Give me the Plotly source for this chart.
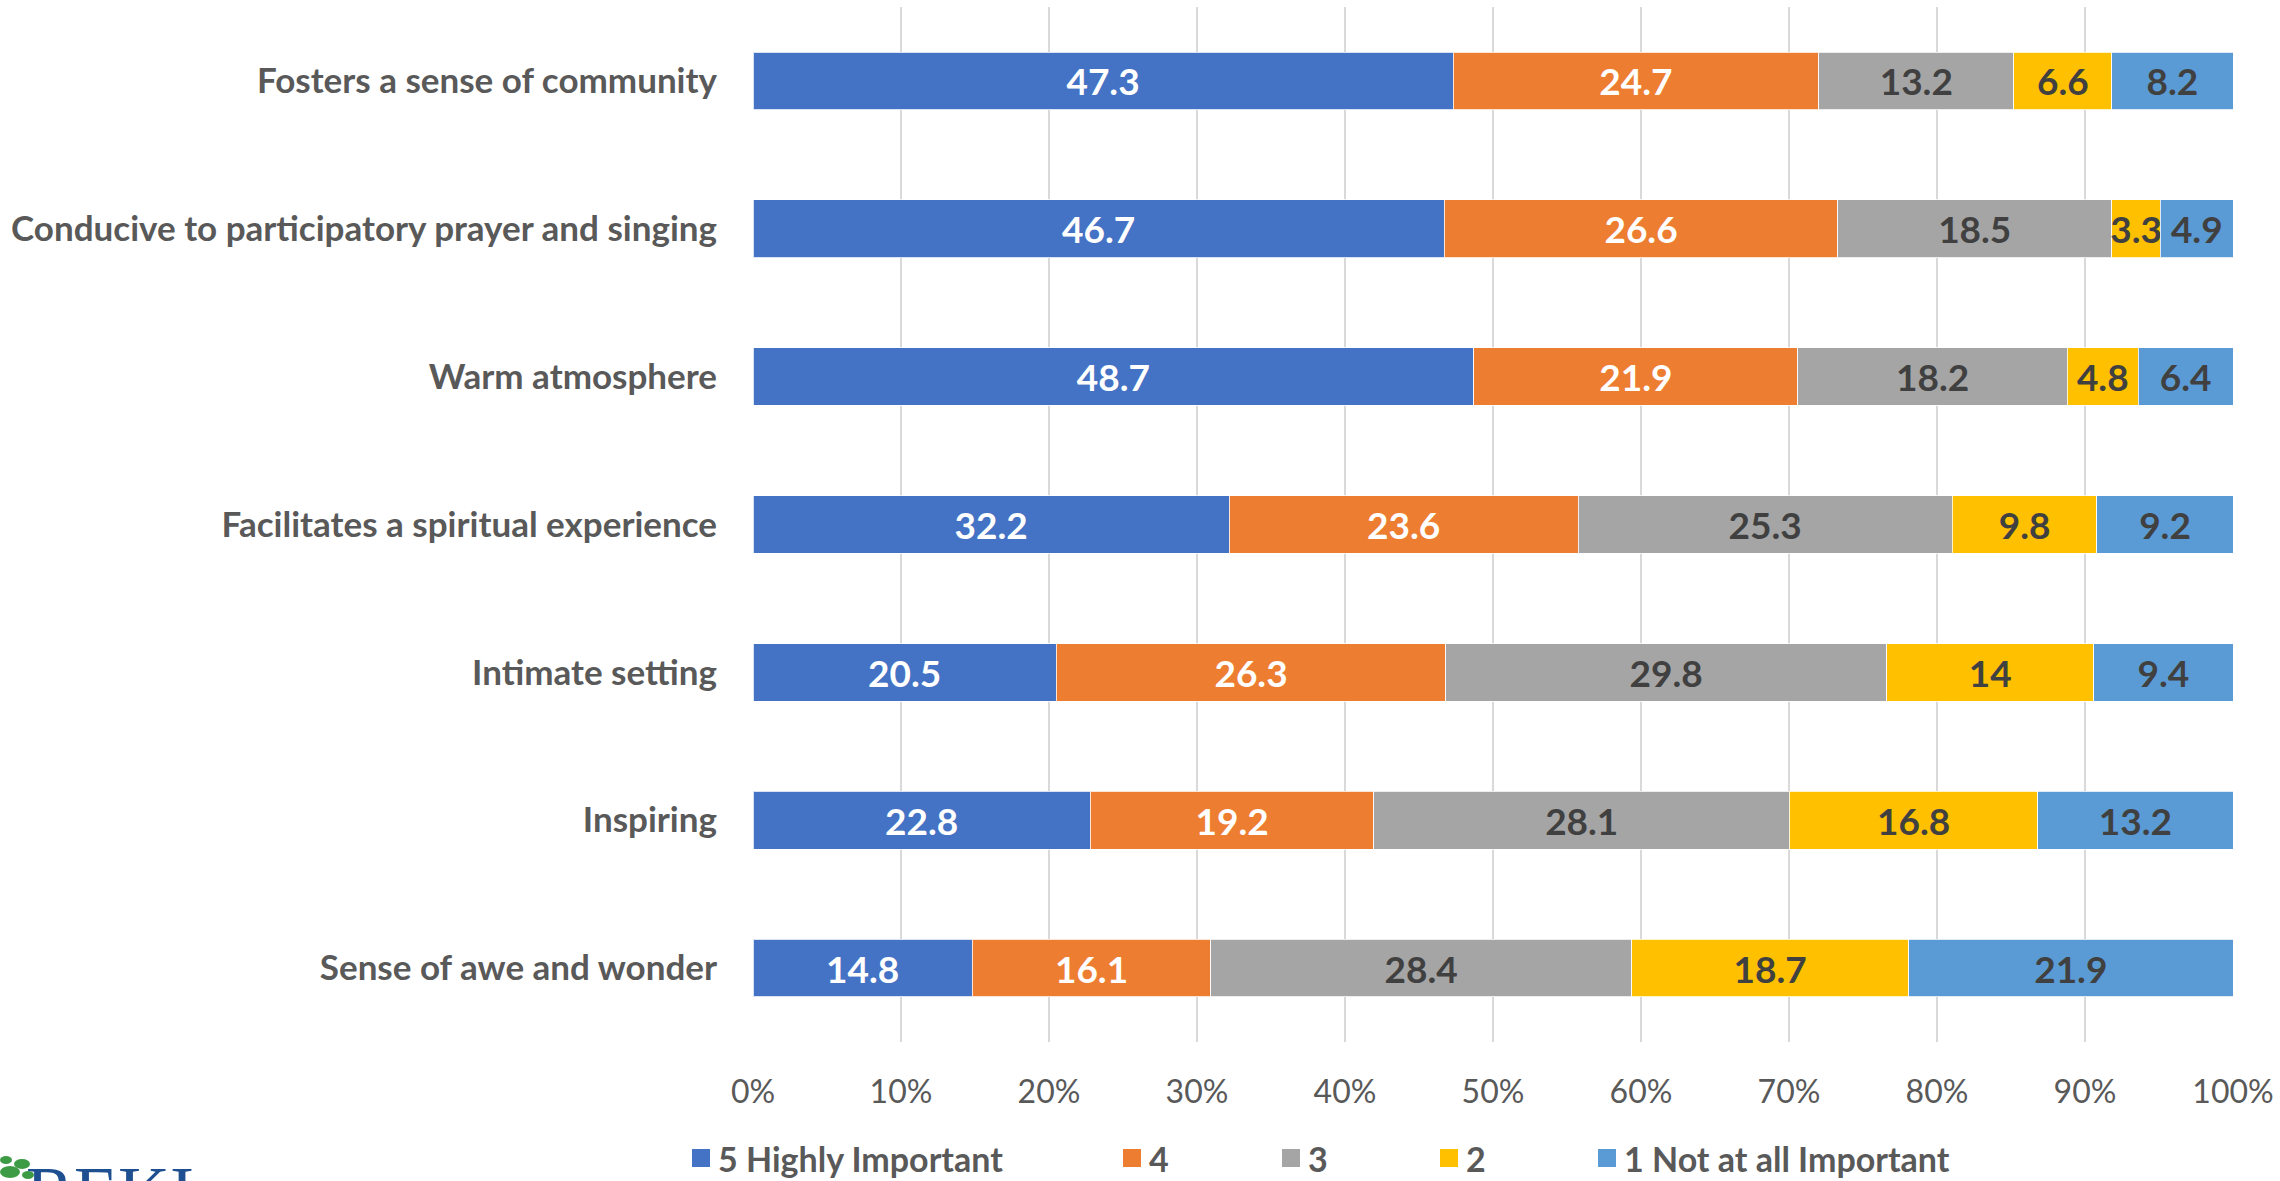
import plotly.graph_objects as go

# Survey items, listed top to bottom
categories = [
    "Fosters a sense of community",
    "Conducive to participatory prayer and singing",
    "Warm atmosphere",
    "Facilitates a spiritual experience",
    "Intimate setting",
    "Inspiring",
    "Sense of awe and wonder",
]

series_names = ["5 Highly Important", "4", "3", "2", "1 Not at all Important"]

highly_important = [47.3, 46.7, 48.7, 32.2, 20.5, 22.8, 14.8]
rating_4 = [24.7, 26.6, 21.9, 23.6, 26.3, 19.2, 16.1]
rating_3 = [13.2, 18.5, 18.2, 25.3, 29.8, 28.1, 28.4]
rating_2 = [6.6, 3.3, 4.8, 9.8, 14, 16.8, 18.7]
not_important = [8.2, 4.9, 6.4, 9.2, 9.4, 13.2, 21.9]

tick_values = [0, 10, 20, 30, 40, 50, 60, 70, 80, 90, 100]
tick_labels = ["0%", "10%", "20%", "30%", "40%", "50%", "60%", "70%", "80%", "90%", "100%"]

series_values = [highly_important, rating_4, rating_3, rating_2, not_important]
colors = ["#4472C4", "#ED7D31", "#A5A5A5", "#FFC000", "#5B9BD5"]
label_colors = ["#FFFFFF", "#FFFFFF", "#404040", "#404040", "#404040"]

FONT = "Lato, Liberation Sans, sans-serif"
TEXT_GREY = "#595959"

W, H = 2280, 1181
M_L, M_R, M_T, M_B = 753, 47, 7, 139
PW = W - M_L - M_R
PH = H - M_T - M_B


def px_x(x):
    return (x - M_L) / PW


def px_y(y):
    return (H - M_B - y) / PH


fig = go.Figure()
for name, vals, col, lcol in zip(series_names, series_values, colors, label_colors):
    fig.add_trace(go.Bar(
        y=categories,
        x=vals,
        name=name,
        orientation="h",
        marker=dict(color=col, line=dict(color="rgba(255,255,255,0.8)", width=1)),
        text=[f"{v:g}" for v in vals],
        textposition="inside",
        insidetextanchor="middle",
        textangle=0,
        constraintext="none",
        insidetextfont=dict(family=FONT, size=37, color=lcol, weight="bold"),
        showlegend=False,
        hoverinfo="skip",
    ))

# Legend drawn as coloured squares with labels beneath the axis
legend_x = [692, 1123, 1282, 1440, 1598]
legend_y = 1158
sq = 18
shapes = []
annotations = []
for name, col, lx in zip(series_names, colors, legend_x):
    shapes.append(dict(
        type="rect", xref="paper", yref="paper",
        x0=px_x(lx), x1=px_x(lx + sq),
        y0=px_y(legend_y + sq / 2), y1=px_y(legend_y - sq / 2),
        fillcolor=col, line=dict(width=0),
    ))
    annotations.append(dict(
        text=name, xref="paper", yref="paper",
        x=px_x(lx + sq + 6), y=px_y(legend_y),
        xanchor="left", yanchor="middle", showarrow=False,
        font=dict(family=FONT, size=34, color=TEXT_GREY, weight="bold"),
    ))

# Organisation wordmark in the bottom-left corner
annotations.append(dict(
    text="REKI", xref="paper", yref="paper",
    x=px_x(24), y=px_y(1150), xanchor="left", yanchor="top",
    showarrow=False,
    font=dict(family="Liberation Serif, serif", size=72, color="#1D4F91"),
))
for cx, cy, rx, ry in [(10, 1172, 10, 6), (22, 1164, 8, 5), (6, 1160, 6, 4), (28, 1175, 6, 4)]:
    shapes.append(dict(
        type="circle", xref="paper", yref="paper",
        x0=px_x(cx - rx), x1=px_x(cx + rx),
        y0=px_y(cy + ry), y1=px_y(cy - ry),
        fillcolor="#3E9B45", line=dict(width=0),
    ))

fig.update_layout(
    width=W, height=H,
    margin=dict(l=M_L, r=M_R, t=M_T, b=M_B, pad=0, autoexpand=False),
    barmode="stack",
    barnorm="percent",
    bargap=0.61,
    paper_bgcolor="white",
    plot_bgcolor="white",
    showlegend=False,
    shapes=shapes,
    annotations=annotations,
    xaxis=dict(
        range=[0, 100],
        tickvals=tick_values,
        ticktext=tick_labels,
        showgrid=True,
        gridcolor="#D9D9D9",
        gridwidth=2,
        zeroline=False,
        showline=False,
        ticks="outside",
        ticklen=22,
        tickcolor="rgba(0,0,0,0)",
        tickfont=dict(family=FONT, size=32, color=TEXT_GREY),
        automargin=False,
        fixedrange=True,
    ),
    yaxis=dict(
        categoryorder="array",
        categoryarray=categories,
        autorange="reversed",
        showgrid=False,
        zeroline=False,
        showline=False,
        ticks="outside",
        ticklen=28,
        tickcolor="rgba(0,0,0,0)",
        tickfont=dict(family=FONT, size=35, color=TEXT_GREY, weight="bold"),
        automargin=False,
        fixedrange=True,
    ),
)

fig.write_html("out.html", config={"displayModeBar": False})
